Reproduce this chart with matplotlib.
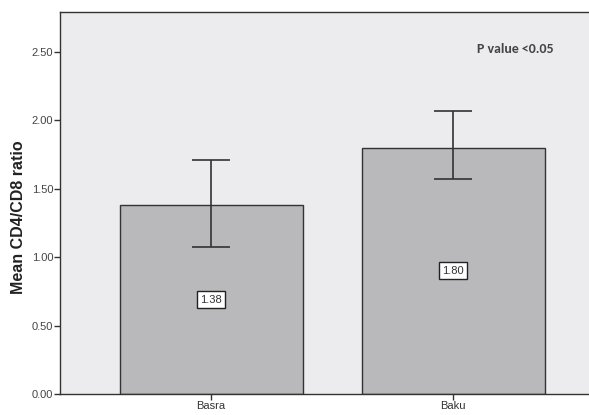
import matplotlib
matplotlib.use("Agg")
import matplotlib.pyplot as plt

# Valeurs
villes = ["Basra", "Baku"]
moyennes = [1.38, 1.80]
ic_bas = [1.07, 1.57]
ic_haut = [1.71, 2.07]
graduations = [0.0, 0.5, 1.0, 1.5, 2.0, 2.5]
etiquettes_y = ["0.00", "0.50", "1.00", "1.50", "2.00", "2.50"]

plt.rcParams["font.family"] = ["Liberation Sans", "DejaVu Sans"]

fig = plt.figure(figsize=(5.89, 4.15), dpi=100)
ax = fig.add_axes([0.102, 0.0506, 0.924, 0.9205])
ax.set_facecolor("#ececee")

pos = list(range(len(villes)))
err = [[m - b for m, b in zip(moyennes, ic_bas)],
       [h - m for m, h in zip(moyennes, ic_haut)]]
ax.bar(pos, moyennes, width=0.756, color="#b9b9bb", edgecolor="#333333",
       linewidth=1.0, zorder=2)
ax.errorbar(pos, moyennes, yerr=err, fmt="none", ecolor="#333333",
            elinewidth=1.2, capsize=13.5, capthick=1.2, zorder=3)

for x, m in zip(pos, moyennes):
    ax.text(x, m / 2, f"{m:.2f}", ha="center", va="center", fontsize=8,
            color="#333333", zorder=4,
            bbox=dict(boxstyle="square,pad=0.3", facecolor="white",
                      edgecolor="#222222", linewidth=1.0))

ax.text(0.837, 0.903, "P value <0.05", transform=ax.transAxes, ha="center",
        va="center", fontsize=10, fontweight="bold", color="#444444",
        family=["Carlito", "Liberation Sans", "DejaVu Sans"])

ax.set_xlim(-0.624, 1.624)
ax.set_ylim(0, 2.79)
ax.set_xticks(pos)
ax.set_xticklabels(villes, fontsize=8, color="#333333")
ax.set_yticks(graduations)
ax.set_yticklabels(etiquettes_y, fontsize=8, color="#444444")
ax.tick_params(axis="both", direction="out", length=4, width=1.0,
               color="#333333", pad=1)
ax.set_ylabel("Mean CD4/CD8 ratio", fontsize=11.5, fontweight="bold",
              color="#222222")
ax.yaxis.set_label_coords(-0.062, 0.463)

for sp in ax.spines.values():
    sp.set_color("#333333")
    sp.set_linewidth(1.0)

fig.savefig("out.png", dpi=100)
